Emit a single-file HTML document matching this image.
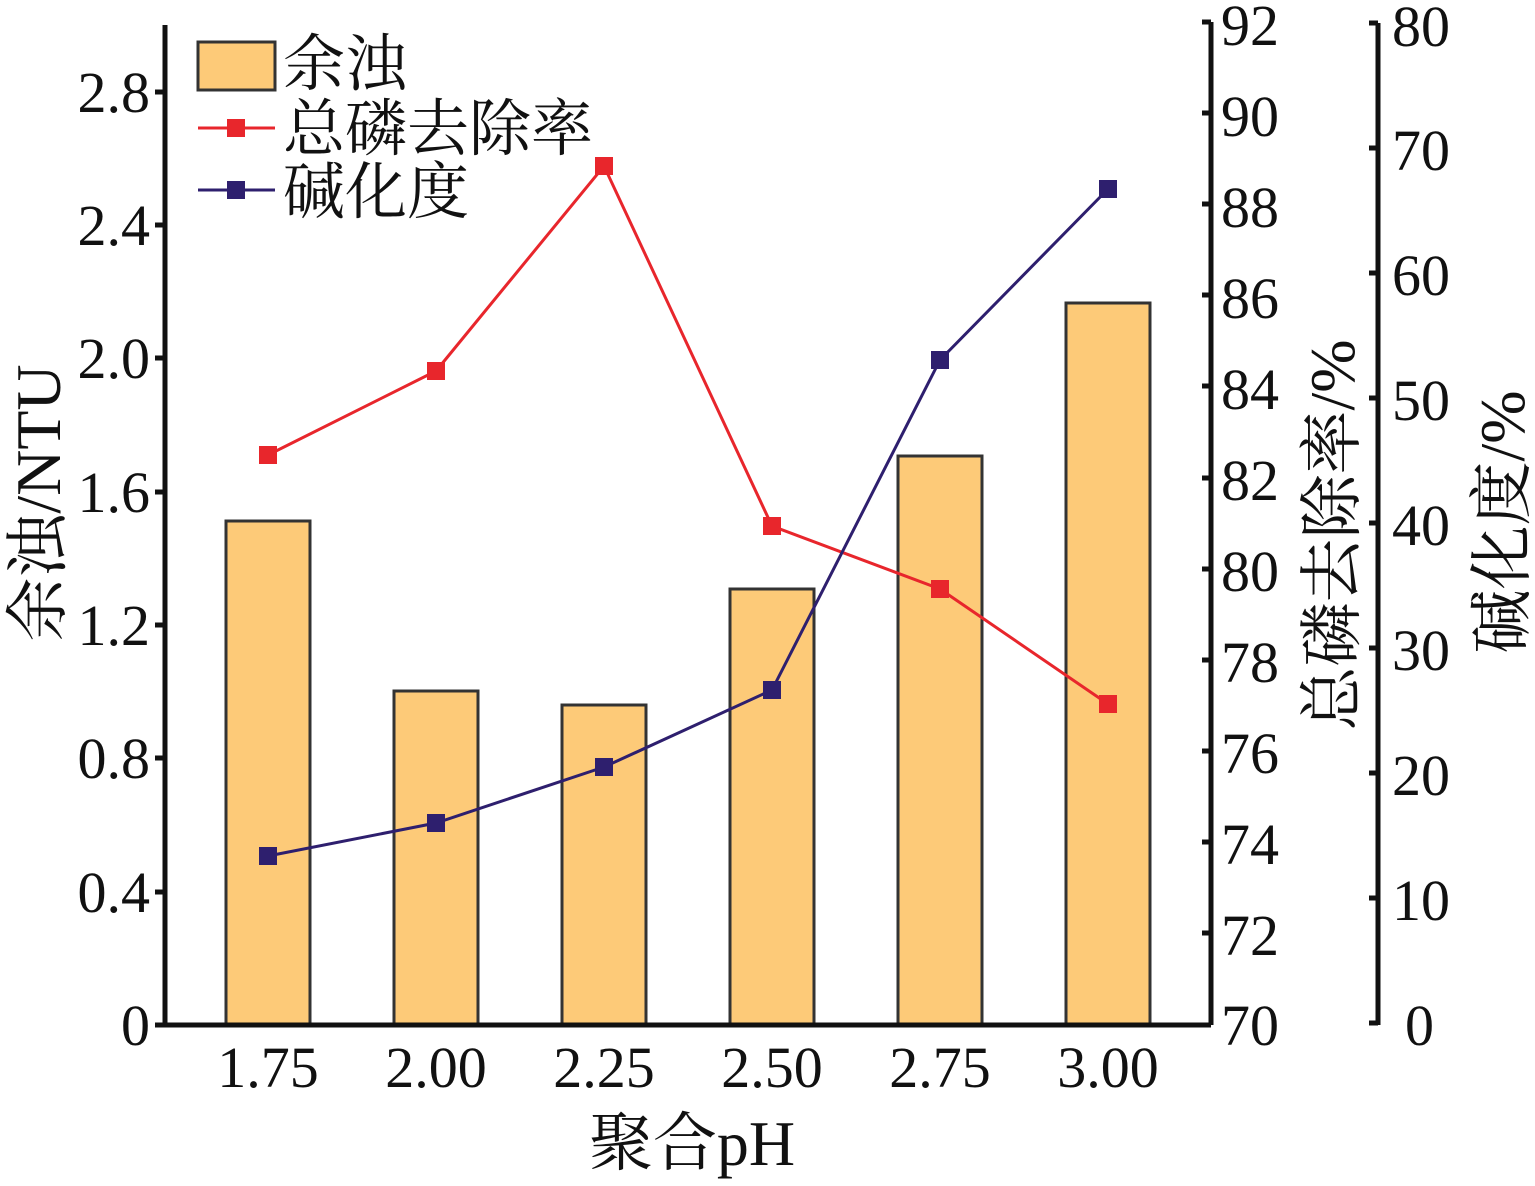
<!DOCTYPE html><html><head><meta charset="utf-8"><style>body{margin:0;background:#fff}</style></head><body>
<svg width="1535" height="1181" xmlns="http://www.w3.org/2000/svg" font-family="Liberation Serif, Noto Serif CJK SC, serif" fill="#111">
<g fill="#fdca78" stroke="#333" stroke-width="3">
<rect x="226" y="521" width="84" height="504"/>
<rect x="394" y="691" width="84" height="334"/>
<rect x="562" y="705" width="84" height="320"/>
<rect x="730" y="589" width="84" height="436"/>
<rect x="898" y="456" width="84" height="569"/>
<rect x="1066" y="303" width="84" height="722"/>
</g>
<polyline points="268,455 436,371 604,166 772,526 940,589 1108,704" fill="none" stroke="#e8262c" stroke-width="3"/>
<g fill="#e8262c"><rect x="259" y="446" width="18" height="18"/><rect x="427" y="362" width="18" height="18"/><rect x="595" y="157" width="18" height="18"/><rect x="763" y="517" width="18" height="18"/><rect x="931" y="580" width="18" height="18"/><rect x="1099" y="695" width="18" height="18"/></g>
<polyline points="268,856 436,823 604,767 772,690 940,360 1108,189" fill="none" stroke="#2e1f6e" stroke-width="3"/>
<g fill="#2e1f6e"><rect x="259" y="847" width="18" height="18"/><rect x="427" y="814" width="18" height="18"/><rect x="595" y="758" width="18" height="18"/><rect x="763" y="681" width="18" height="18"/><rect x="931" y="351" width="18" height="18"/><rect x="1099" y="180" width="18" height="18"/></g>
<g stroke="#111" stroke-width="5" fill="none">
<path d="M165,25V1025H1208"/>
<path d="M1211,22V1025M1202,22H1211"/>
<path d="M1378,23V1025M1369,23H1378"/>
</g>
<g stroke="#111" stroke-width="5">
<path d="M155,92H165M155,225H165M155,358H165M155,492H165M155,625H165M155,758H165M155,892H165M155,1025H165"/>
<path d="M1202,113H1211M1202,204H1211M1202,295H1211M1202,386H1211M1202,478H1211M1202,569H1211M1202,660H1211M1202,751H1211M1202,842H1211M1202,933H1211M1202,1025H1211"/>
<path d="M1369,148H1378M1369,273H1378M1369,398H1378M1369,523H1378M1369,648H1378M1369,773H1378M1369,898H1378M1369,1023H1378"/>
</g>
<g font-size="58" text-anchor="end">
<text x="150" y="112">2.8</text><text x="150" y="245">2.4</text><text x="150" y="378">2.0</text><text x="150" y="512">1.6</text><text x="150" y="645">1.2</text><text x="150" y="778">0.8</text><text x="150" y="912">0.4</text><text x="150" y="1045">0</text>
</g>
<g font-size="58">
<text x="1221" y="45">92</text><text x="1221" y="136">90</text><text x="1221" y="227">88</text><text x="1221" y="318">86</text><text x="1221" y="409">84</text><text x="1221" y="500">82</text><text x="1221" y="591">80</text><text x="1221" y="682">78</text><text x="1221" y="773">76</text><text x="1221" y="864">74</text><text x="1221" y="955">72</text><text x="1221" y="1045">70</text>
<text x="1392" y="46">80</text><text x="1392" y="170">70</text><text x="1392" y="295">60</text><text x="1392" y="420">50</text><text x="1392" y="545">40</text><text x="1392" y="670">30</text><text x="1392" y="795">20</text><text x="1392" y="920">10</text><text x="1405" y="1045">0</text>
</g>
<g font-size="58" text-anchor="middle">
<text x="268" y="1087">1.75</text><text x="436" y="1087">2.00</text><text x="604" y="1087">2.25</text><text x="772" y="1087">2.50</text><text x="940" y="1087">2.75</text><text x="1108" y="1087">3.00</text>
</g>
<g font-size="64" text-anchor="middle">
<text x="692" y="1165">聚合pH</text>
<text transform="translate(60,503) rotate(-90)">余浊/NTU</text>
<text transform="translate(1354,535) rotate(-90)">总磷去除率/%</text>
<text transform="translate(1524,522) rotate(-90)">碱化度/%</text>
</g>
<rect x="198" y="42" width="77" height="48" fill="#fdca78" stroke="#333" stroke-width="3"/>
<path d="M198,128H275" stroke="#e8262c" stroke-width="3"/><rect x="227" y="119" width="18" height="18" fill="#e8262c"/>
<path d="M198,190H275" stroke="#2e1f6e" stroke-width="3"/><rect x="227" y="181" width="18" height="18" fill="#2e1f6e"/>
<g font-size="62"><text x="283" y="85">余浊</text><text x="283" y="150">总磷去除率</text><text x="283" y="213">碱化度</text></g>
</svg></body></html>
